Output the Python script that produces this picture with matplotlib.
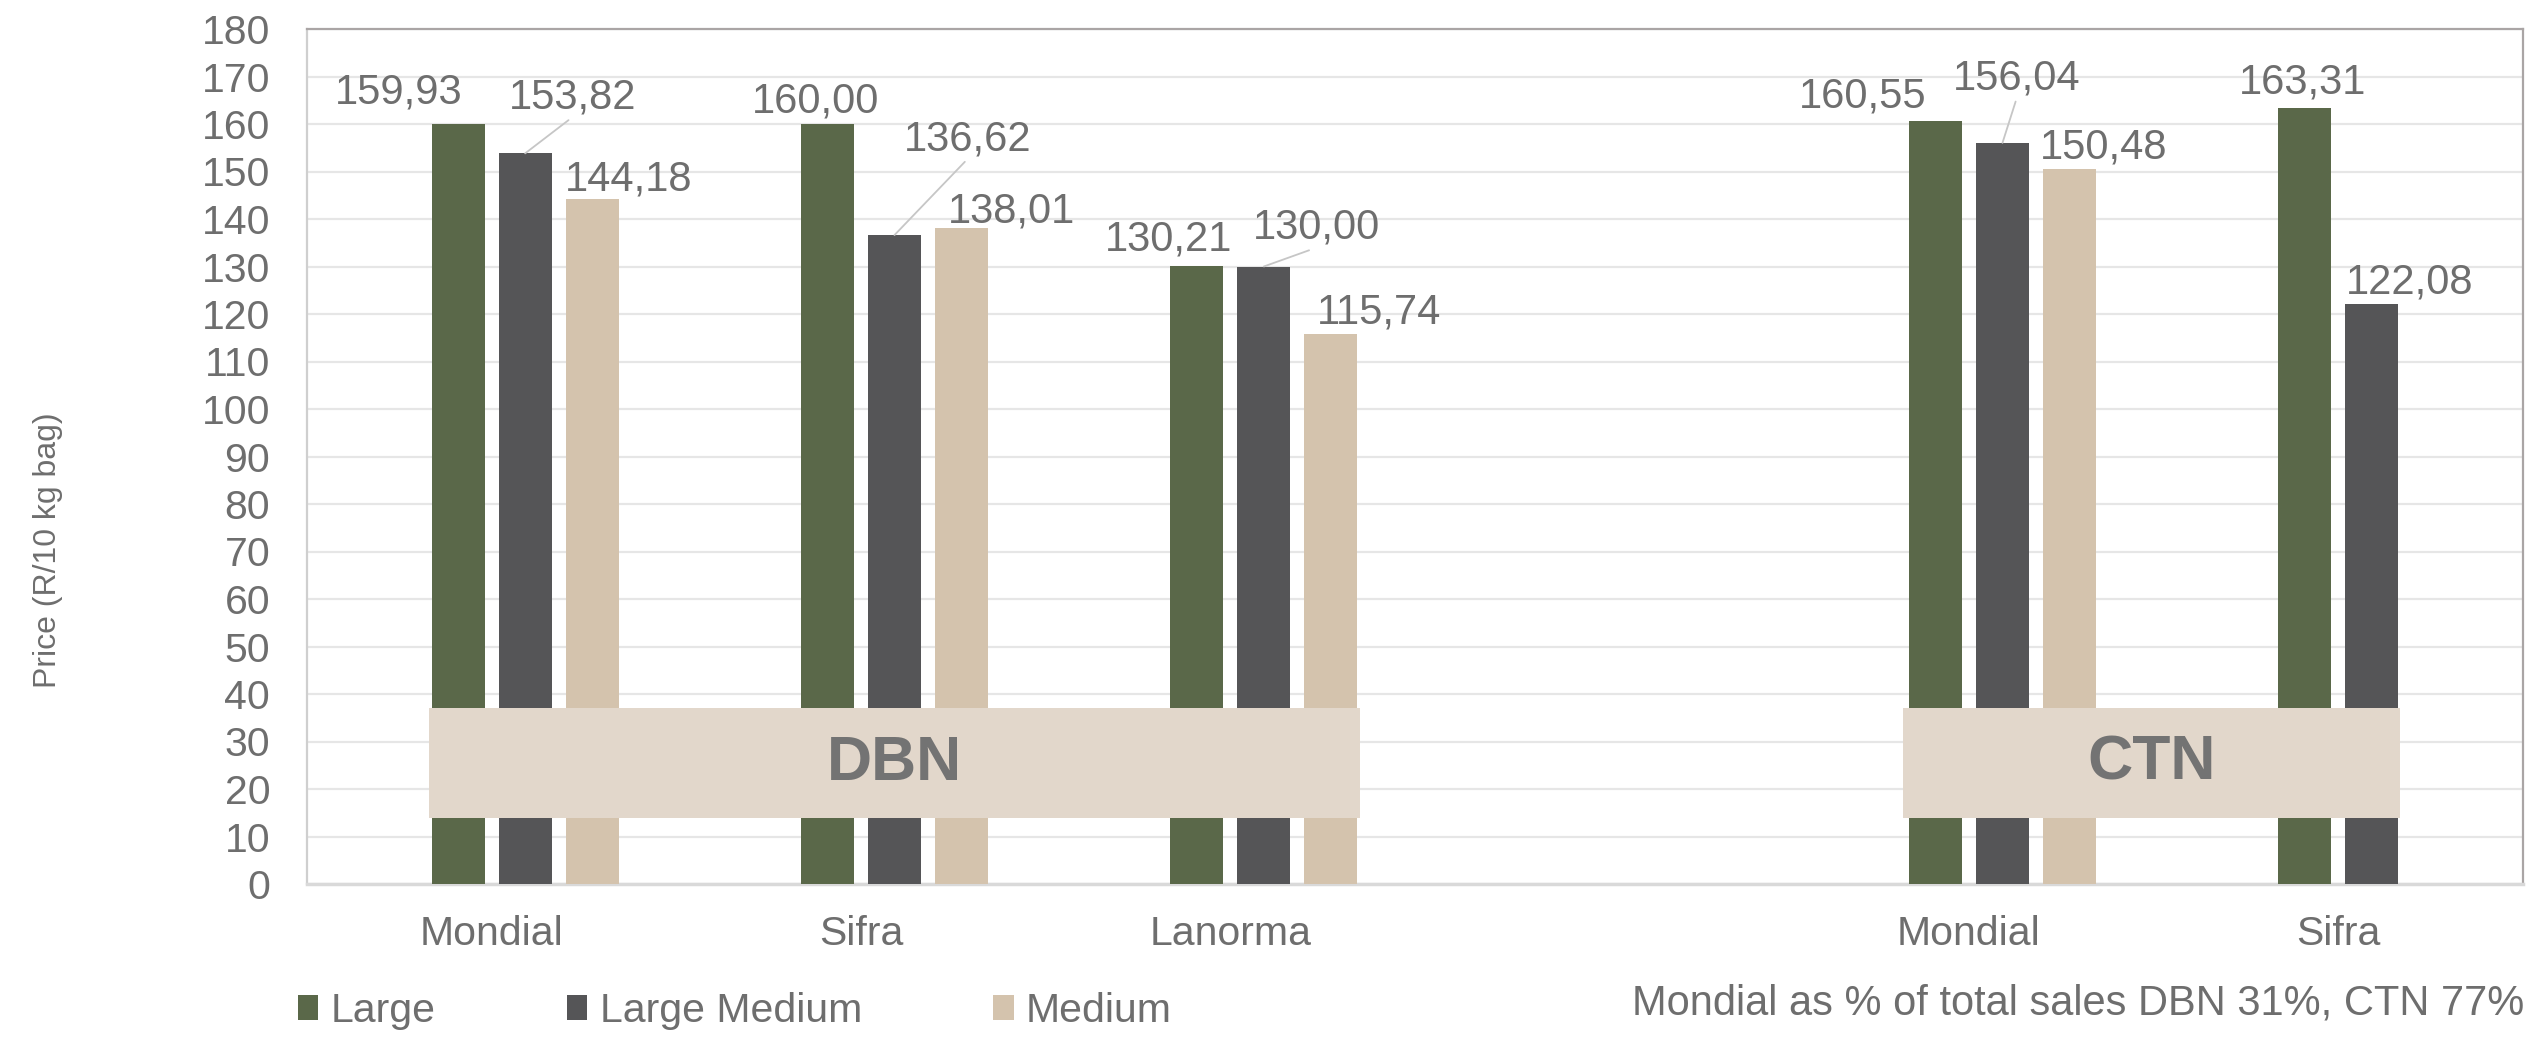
import numpy as np
import matplotlib
matplotlib.use("Agg")
import matplotlib.pyplot as plt
from matplotlib.patches import Rectangle

# ---------------- data ----------------
categories = ["Mondial", "Sifra", "Lanorma", "", "Mondial", "Sifra"]
series_names = ["Large", "Large Medium", "Medium"]
large = [159.93, 160.00, 130.21, np.nan, 160.55, 163.31]
large_medium = [153.82, 136.62, 130.00, np.nan, 156.04, 122.08]
medium = [144.18, 138.01, 115.74, np.nan, 150.48, np.nan]
region_labels = ["DBN", "CTN"]
y_ticks = list(range(0, 181, 10))
footnote = "Mondial as % of total sales DBN 31%, CTN 77%"
y_title = "Price (R/10 kg bag)"

# ---------------- layout / style ----------------
colors = ["#5a6849", "#555557", "#d4c3ad"]
text_color = "#6e6e6e"
box_color = "#e2d7cb"
# label offsets in pixels (dx, dy) per series per category
label_dx = [[-59, -12, -28, 0, -73, -2],
            [47, 73, 53, 0, 14, 38],
            [36, 50, 48, 0, 34, 0]]
label_dy = [[21, 12, 15, 0, 14, 15],
            [45, 85, 28, 0, 53, 11],
            [9, 6, 11, 0, 11, 0]]
leader = [[False] * 6,
          [True, True, True, False, True, False],
          [False] * 6]

plt.rcParams["font.family"] = ["Liberation Sans", "DejaVu Sans"]

fig = plt.figure(figsize=(25.34, 10.38), dpi=100)
ax = fig.add_axes([307 / 2534, 1 - 884 / 1038, (2523 - 307) / 2534, (884 - 29) / 1038])

pitch = 0.1814
width = 0.1435
x = np.arange(len(categories))
values = [large, large_medium, medium]
for k, vals in enumerate(values):
    xs = x + (k - 0.5) * pitch
    ax.bar(xs, vals, width=width, color=colors[k], label=series_names[k], zorder=3)
    for i, v in enumerate(vals):
        if np.isnan(v):
            continue
        txt = f"{v:.2f}".replace(".", ",")
        kw = {}
        if leader[k][i]:
            kw["arrowprops"] = dict(arrowstyle="-", color="#c6c6c6", lw=1.3,
                                    shrinkA=0, shrinkB=0, relpos=(0.5, 0.0))
        ax.annotate(txt, xy=(xs[i], v), xytext=(label_dx[k][i], label_dy[k][i]),
                    textcoords="offset pixels", ha="center", va="baseline",
                    fontsize=30, color=text_color, zorder=5, **kw)

ax.set_xlim(-0.5, len(categories) - 0.5)
ax.set_ylim(0, 180)
ax.set_yticks(y_ticks)
ax.set_yticklabels([str(t) for t in y_ticks])
ax.set_xticks(x)
ax.set_xticklabels(categories)
ax.tick_params(axis="y", length=0, pad=26.5, labelsize=29.5, labelcolor=text_color)
ax.tick_params(axis="x", length=0, pad=22, labelsize=29.5, labelcolor=text_color)
ax.yaxis.grid(True, color="#e6e6e6", lw=1.6, zorder=0)
ax.set_axisbelow(True)

for s in ["top", "right"]:
    ax.spines[s].set_color("#aaa5a5")
    ax.spines[s].set_linewidth(1.6)
ax.spines["left"].set_color("#cfcfcf")
ax.spines["left"].set_linewidth(1.6)
ax.spines["bottom"].set_color("#d9d9d9")
ax.spines["bottom"].set_linewidth(2.5)

# region boxes (axes fraction)
boxes = [(0.0551, 0.4752), (0.7202, 0.9445)]
y0, y1 = 0.0772, 0.2058
for (bx0, bx1), name in zip(boxes, region_labels):
    ax.add_patch(Rectangle((bx0, y0), bx1 - bx0, y1 - y0, transform=ax.transAxes,
                           facecolor=box_color, edgecolor="none", zorder=6))
    ax.text((bx0 + bx1) / 2, (y0 + y1) / 2, name, transform=ax.transAxes,
            ha="center", va="center", fontsize=45, fontweight="bold",
            color="#737373", zorder=7)

fig.text(48 / 2534, 1 - 550 / 1038, y_title, rotation=90, ha="center", va="center",
         fontsize=23, color=text_color)

leg = fig.legend(loc="center left", bbox_to_anchor=(298 / 2534, 1 - 1011 / 1038),
                 ncol=3, frameon=False, fontsize=29.5, handlelength=0.5,
                 handleheight=0.55, handletextpad=0.3, columnspacing=3.2,
                 borderpad=0, borderaxespad=0)
for t in leg.get_texts():
    t.set_color(text_color)

fig.text(1632 / 2534, 1 - 1015 / 1038, footnote, ha="left", va="baseline",
         fontsize=30, color=text_color)

fig.savefig("out.png", dpi=100)
